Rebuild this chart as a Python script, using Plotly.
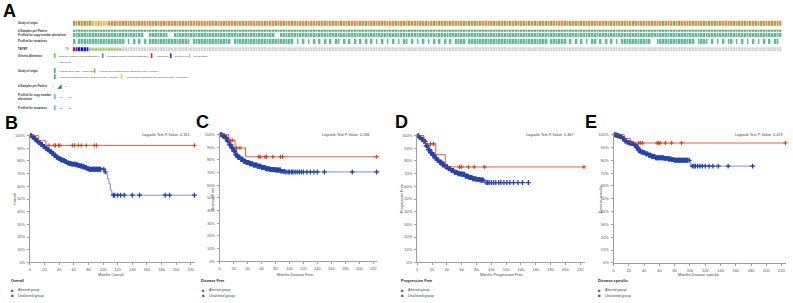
import plotly.graph_objects as go

W, H = 793, 303
FONT = "Liberation Sans, Arial, sans-serif"

# ---------------- Panel A data (oncoprint tracks) ----------------
N_PAT = 260
TRACK_LABELS = ["Study of origin", "# Samples per Patient",
                "Profiled for copy number alterations", "Profiled for mutations", "TAPBP"]
GENE_PCT = "7%"
STUDY_CODES = ("gogogogyyoyyy"
               "oogoogogooogoogoogoogooogoogogoogooogoog"
               "oogooogoogogoogoogooogoogoogogoogooogoog"
               "oogoogoogooogogoogoogoooogoogogoogoogoog"
               "ogogogoogogogogogoogogogogogogoogogogogog"
               "ogogoogogogogogogogoogogogogogogogoogogog"
               "ogogogogoogogogogogogogoogogogogogogogogo"
               "gogogogo")
SAMPLES_RUNS = [("x", 260)]
CNA_RUNS = [("x", 26), (".", 2), ("x", 7), (".", 2), ("x", 37), (".", 2), ("x", 184)]
MUT_CODES = ("x." "xxxxxxxxxxxxxxxxx" ".x.x.x.x." "xxxxxxxxxxx" "xxxx." "xxxxxxxxxxxxx"
             "x." "xxxxxxxxxxxxxxxxxxxxx"
             "x.x.x.x.x.x.x.x.xx.x.x.x.x.x.x.x.x.x.x.x.xx.x.x.x.x.x.x.x.x.x"
             "xxx." "xxxxxxxxxxxxxxxxxxxxxxxxxxxxx" "." "xxxxx"
             "x.x.x.x.x.xx.x.x.x.x." "xxxxxxxxxxx" ".." "xxxxxxxxxxxxx" "x.xxxx."
             "x.x.x.xx.x.x.x.x.x.x.x.xx.x.x")
GENE_RUNS = [("r", 1), ("b", 5), ("m", 12), ("n", 242)]

STUDY_COLORS = {"o": "#ee8a3c", "g": "#8fa64c", "y": "#f0c24a"}
PROFILED_COLOR = "#5cb895"
SAMPLES_COLOR = "#55a86a"
GENE_COLORS = {"r": "#ff0000", "b": "#1010e8", "m": "#d3d3d3", "n": "#d3d3d3"}
MISSENSE_COLOR = "#8ed14a"

# ---------------- Panels B-E data (Kaplan-Meier) ----------------
MONTH_TICKS = [0, 20, 40, 60, 80, 100, 120, 140, 160, 180, 200, 220]
PCT_TICKS = [0, 10, 20, 30, 40, 50, 60, 70, 80, 90, 100]
PANEL_NAMES = ["Overall", "Disease Free", "Progression Free", "Disease-specific"]
X_TITLES = ["Months Overall", "Months Disease Free", "Months Progression Free", "Months Disease-specific"]
P_VALUES = ["0.161", "0.286", "0.467", "0.419"]

ALT_T = [[0, 12, 22], [0, 13, 22, 37], [0, 9, 25, 38], [0, 14, 22]]
ALT_S = [[100, 96, 92.3], [100, 95.5, 89.5, 82.5], [100, 93.5, 85, 75.3], [100, 97, 93.5]]
ALT_CENS = [[26, 33, 35, 39, 41, 58, 61, 66, 70, 77, 88, 91, 225],
            [15, 18, 24, 29, 56, 58, 65, 67, 76, 87, 90, 225],
            [18, 22, 57, 60, 69, 77, 91, 225],
            [33, 35, 38, 57, 59, 61, 68, 76, 89, 225]]

UNALT_T = [[0, 3, 6, 9, 12, 15, 18, 21, 24, 27, 30, 33, 36, 39, 42, 45, 48, 51, 54, 57, 60,
            63, 66, 69, 72, 75, 78, 81, 102, 104, 106, 108, 110, 112],
           [0, 4, 8, 11, 14, 17, 20, 23, 26, 30, 34, 38, 43, 48, 54, 60, 66, 72, 80, 88, 95],
           [0, 3, 6, 9, 12, 15, 18, 21, 24, 27, 30, 34, 38, 42, 46, 50, 55, 60, 65, 70, 75,
            80, 85, 91],
           [0, 3, 6, 9, 12, 15, 18, 21, 24, 27, 30, 33, 36, 39, 42, 46, 50, 55, 60, 66, 72,
            76, 80, 101]]
UNALT_S = [[100, 99, 97.5, 96, 94.5, 93, 91.5, 90, 89, 87.5, 86, 84.5, 83, 82, 81, 80.5, 79.5,
            78.5, 78, 77.5, 77.5, 77, 76.5, 76, 75.5, 75, 74, 73.5, 71.5, 70, 66, 62, 57, 53],
           [100, 99, 97.5, 95, 92, 89.5, 87, 84, 82, 80.5, 79, 78, 77, 76, 75, 74, 73, 72.5,
            72, 71, 70.5],
           [100, 98.5, 97, 95.5, 92, 89, 86.5, 84.5, 82.5, 80.5, 79, 77, 75.5, 74, 72.5, 71,
            70, 69.5, 68, 67, 66, 65.5, 65, 63],
           [100, 99.5, 99, 98.5, 97, 95, 94, 93.5, 93, 92, 90, 87.5, 86.5, 86, 85, 84, 83, 82,
            82, 81.5, 81, 80.5, 80, 75.5]]
CENS_EARLY = [1, 2, 3, 4, 5, 6, 7, 8, 9, 10, 11, 12, 13, 14, 15, 16, 17, 18, 19, 20, 21, 22,
              23, 24, 25, 26, 27, 28, 29, 30, 31, 32, 33, 34, 35, 36, 37, 38, 39, 40, 41, 42,
              43, 44, 45, 46, 47, 48, 49, 50, 51, 52, 53, 54, 55, 56, 57, 58, 59, 60, 61, 62,
              63, 64, 65, 66, 67, 68, 69, 70, 71, 72, 73, 74, 75, 76, 77, 78, 79, 80, 81, 82,
              83, 84, 85, 86, 87, 88, 89]
UNALT_CENS_LATE = [[90, 91, 92, 93, 94, 95, 96, 97, 101, 103, 114, 116, 120, 124, 129, 140, 150, 185, 191, 225],
                   [91, 93, 95, 98, 100, 103, 105, 108, 111, 114, 117, 120, 125, 130, 135, 140, 150, 190, 225],
                   [93, 95, 97, 100, 103, 106, 110, 113, 117, 121, 125, 130, 136, 142, 150],
                   [90, 91, 92, 93, 94, 95, 96, 97, 99, 103, 105, 107, 110, 113, 116, 120, 125, 130, 137, 150, 182]]

ALT_COLOR = "#dc3912"
UNALT_LINE = "#5577d0"
UNALT_MARK = "#2443b0"

# pixel calibration of each KM panel: (x px at 0, x px at 220, y px at 0%, y px at 100%)
PANEL_CAL = [(29, 190, 264, 136), (219, 372.7, 262.7, 135), (416.7, 580, 264, 136),
             (613.3, 781.7, 264.5, 135)]
LETTERS = [("A", 9, 10.5), ("B", 11, 123.5), ("C", 201.5, 122.5), ("D", 401, 122.5), ("E", 591, 122.5)]


def px(x):
    return x / W


def py(y):
    return 1 - y / H


def expand(runs):
    out = []
    for c, n in runs:
        out.extend([c] * n)
    return out


def fit(codes):
    codes = list(codes)[:N_PAT]
    while len(codes) < N_PAT:
        codes.append(codes[-1])
    return codes


fig = go.Figure()


def add_row(codes, cmap, y0, y1):
    keys = list(cmap.keys())
    cols = [cmap[k] for k in keys]
    idx = [keys.index(c) if c in cmap else None for c in codes]
    K = len(keys)
    if K == 1:
        cs = [[0, cols[0]], [1, cols[0]]]
        zmax = 1
    else:
        cs = [[i / (K - 1), cols[i]] for i in range(K)]
        zmax = K - 1
    fig.add_trace(go.Heatmap(z=[idx], x=list(range(N_PAT)), y=[y0, y1], colorscale=cs,
                             zmin=0, zmax=zmax, showscale=False, xgap=0.55, hoverinfo="skip",
                             xaxis="x", yaxis="y"))


add_row(fit(STUDY_CODES), STUDY_COLORS, 20, 25)
add_row(fit(expand(SAMPLES_RUNS)), {"x": SAMPLES_COLOR}, 29, 31)
add_row(fit(expand(CNA_RUNS)), {"x": PROFILED_COLOR}, 32.3, 36.7)
add_row(fit(MUT_CODES), {"x": PROFILED_COLOR}, 38.3, 43.3)
gene = fit(expand(GENE_RUNS))
add_row(gene, GENE_COLORS, 46.7, 50.7)
add_row(["m" if c == "m" else None for c in gene], {"m": MISSENSE_COLOR}, 47.9, 49.5)

annotations = []


def txt(x, y, s, size=3.2, color="#333", xanchor="left", yanchor="middle", bold=False, angle=0):
    annotations.append(dict(x=px(x), y=py(y), xref="paper", yref="paper", text=("<b>%s</b>" % s) if bold else s,
                            showarrow=False, xanchor=xanchor, yanchor=yanchor, textangle=angle,
                            borderpad=0,
                            font=dict(size=size, color=color, family=FONT)))


# track labels
for lab, y in zip(TRACK_LABELS, [22.5, 30, 34.5, 40.8, 48.7]):
    txt(16, y, lab, size=2.8, bold=True)
txt(70.5, 48.7, GENE_PCT, size=2.8, xanchor="right")

# panel A legends
txt(16, 56, "Genetic Alteration", size=2.8, bold=True)
leg_ga = [(55, "#53d400", "Missense Mutation (unknown significance)"),
          (103, "#708090", "Truncating Mutation (unknown significance)"),
          (152, "#ff0000", "Amplification"), (171, "#1010e8", "Deep Deletion"),
          (190, "#c8c8c8", "No alterations")]
for x, c, s in leg_ga:
    txt(x, 56, "▌", size=4, color=c, xanchor="center")
    txt(x + 2, 56, s, size=2.2)
txt(58, 62, "Not profiled", size=2.2)
txt(16, 71, "Study of origin", size=2.8, bold=True)
for x, y, c, s in [(55, 71, "#3e9b55", "Head and Neck (TCGA, Nature 2015)"),
                   (95, 71, "#ee8a3c", "Head and Neck Squamous Cell Carcinoma (TCGA, Firehose)"),
                   (55, 77, "#3e9b55", "Head and Neck Squamous Cell Carcinoma (TCGA, PanCan)"),
                   (122, 77, "#f0c24a", "Head and Neck Squamous Cell Carcinoma (TCGA, Provisional)")]:
    txt(x, y, "▌", size=4, color=c, xanchor="center")
    txt(x + 2, y, s, size=2.2)
txt(16, 86, "# Samples per Patient", size=2.8, bold=True)
txt(59, 85.5, "◢", size=6, color="#2e8b3a", xanchor="center")
txt(54.5, 86, "1", size=2.2, xanchor="right")
txt(63.5, 86, "2", size=2.2)
txt(16, 95, "Profiled for copy number", size=2.8, bold=True)
txt(16, 99, "alterations", size=2.8, bold=True)
txt(16, 108, "Profiled for mutations", size=2.8, bold=True)
for y in (96.5, 108):
    txt(55, y, "▌", size=4, color=PROFILED_COLOR, xanchor="center")
    txt(57, y, "Yes", size=2.2)
    txt(67, y, "No", size=2.2)

# panel letters
for L, x, y in LETTERS:
    txt(x, y, L, size=18, color="#000", xanchor="center", bold=True)


def surv_at(ts, ss, t):
    v = ss[0]
    for a, b in zip(ts, ss):
        if a <= t:
            v = b
    return v


layout_axes = {}
for k in range(4):
    ax = k + 2
    x0, x220, y0, y100 = PANEL_CAL[k]
    sx = (x220 - x0) / 220.0
    sy = (y0 - y100) / 100.0
    xr = [0, 226]
    yr = [0, 101]
    layout_axes["xaxis%d" % ax] = dict(
        domain=[px(x0 + xr[0] * sx), px(x0 + xr[1] * sx)], range=xr, anchor="y%d" % ax,
        tickvals=MONTH_TICKS, showline=True, linecolor="#a0a0a0", linewidth=1, ticks="outside",
        ticklen=2, tickcolor="#a0a0a0", tickfont=dict(size=4, color="#555", family=FONT),
        showgrid=False, zeroline=False, ticklabelstandoff=1)
    layout_axes["yaxis%d" % ax] = dict(
        domain=[py(y0 - yr[0] * sy), py(y0 - yr[1] * sy)], range=yr, anchor="x%d" % ax,
        tickvals=PCT_TICKS, ticktext=["%d%%" % v for v in PCT_TICKS], showline=True,
        linecolor="#a0a0a0", linewidth=1, ticks="outside", ticklen=2, tickcolor="#a0a0a0",
        tickfont=dict(size=4, color="#555", family=FONT), showgrid=False, zeroline=False,
        ticklabelstandoff=1)
    xa, ya = "x%d" % ax, "y%d" % ax

    # unaltered
    ucens = CENS_EARLY + UNALT_CENS_LATE[k]
    ut, us = UNALT_T[k], UNALT_S[k]
    fig.add_trace(go.Scatter(x=ut + [max(ucens)], y=us + [us[-1]], mode="lines",
                             line=dict(color=UNALT_LINE, width=0.8, shape="hv"),
                             xaxis=xa, yaxis=ya, hoverinfo="skip", showlegend=False))
    fig.add_trace(go.Scatter(x=ucens, y=[surv_at(ut, us, t) for t in ucens], mode="markers",
                             marker=dict(symbol="cross-thin", size=3.5,
                                         line=dict(color=UNALT_MARK, width=1.3)),
                             xaxis=xa, yaxis=ya, hoverinfo="skip", showlegend=False, cliponaxis=False))
    # altered
    acens = ALT_CENS[k]
    at, as_ = ALT_T[k], ALT_S[k]
    fig.add_trace(go.Scatter(x=at + [max(acens)], y=as_ + [as_[-1]], mode="lines",
                             line=dict(color=ALT_COLOR, width=0.8, shape="hv"),
                             xaxis=xa, yaxis=ya, hoverinfo="skip", showlegend=False))
    fig.add_trace(go.Scatter(x=acens, y=[surv_at(at, as_, t) for t in acens], mode="markers",
                             marker=dict(symbol="cross-thin", size=3,
                                         line=dict(color=ALT_COLOR, width=1)),
                             xaxis=xa, yaxis=ya, hoverinfo="skip", showlegend=False, cliponaxis=False))

# KM text
P_X = [190, 370, 575, 784]
YT_X = [14, 212.7, 401.7, 601]
XT_X = [110.5, 294, 501, 698]
LEG_X = [9, 199.3, 399.3, 596.7]
for k in range(4):
    txt(P_X[k], 135.5, "Logrank Test P-Value: " + P_VALUES[k], size=3.8, color="#444", xanchor="right")
    txt(YT_X[k], 200, PANEL_NAMES[k], size=3.8, color="#444", xanchor="center", angle=-90)
    txt(XT_X[k], 276.5, X_TITLES[k], size=3.8, color="#444", xanchor="center")
    lx = LEG_X[k]
    txt(lx, 283, PANEL_NAMES[k], size=3.8, color="#222", bold=True)
    txt(lx + 3, 292, "■", size=4.5, color=ALT_COLOR, xanchor="center")
    txt(lx + 7.5, 292, "Altered group", size=3.6, color="#444")
    txt(lx + 3, 297.7, "■", size=4.5, color="#2a55c8", xanchor="center")
    txt(lx + 7.5, 297.7, "Unaltered group", size=3.6, color="#444")

fig.update_layout(
    width=W, height=H, margin=dict(l=0, r=0, t=0, b=0), paper_bgcolor="white",
    plot_bgcolor="white", showlegend=False, font=dict(family=FONT),
    xaxis=dict(domain=[px(72), px(782)], range=[-0.5, N_PAT - 0.5], visible=False, anchor="y"),
    yaxis=dict(domain=[py(53), py(18)], range=[53, 18], visible=False, anchor="x"),
    annotations=annotations, **layout_axes)

fig.write_html("out.html", config={"displayModeBar": False, "staticPlot": True},
               post_script="document.body.style.margin='0';document.body.style.overflow='hidden';")
